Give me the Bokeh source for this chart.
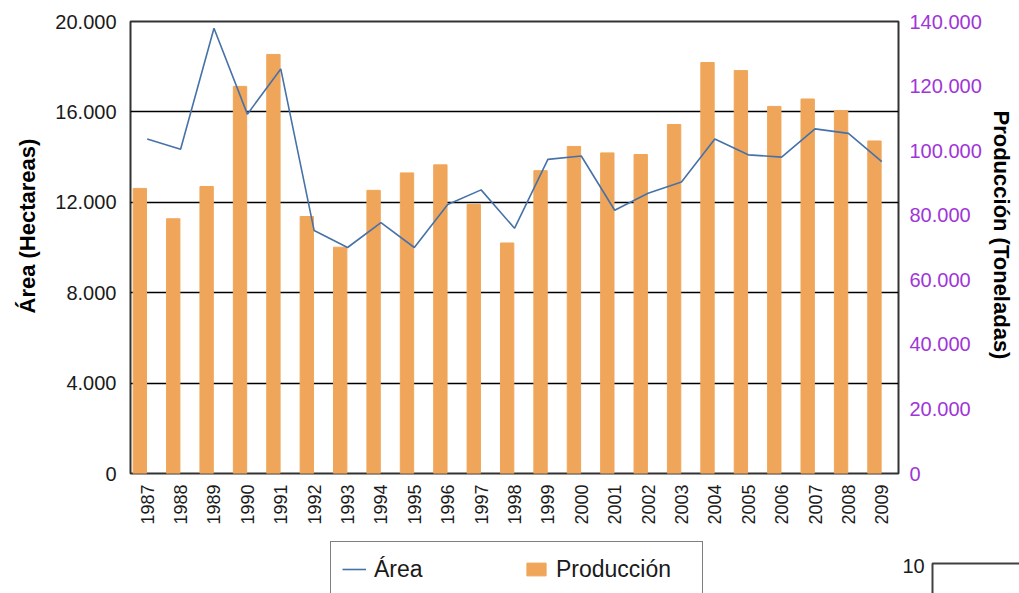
import math
from bokeh.plotting import figure
from bokeh.layouts import column
from bokeh.models import (FactorRange, Range1d, LinearAxis, FixedTicker, Legend,
                          LegendItem, ColumnDataSource, Title)
from bokeh.core.properties import value
from bokeh.transform import dodge
from bokeh.embed import file_html
from bokeh.resources import INLINE

years = [str(y) for y in range(1987, 2010)]
area = [14800, 14350, 19700, 15900, 17900, 10750, 10000, 11100, 10000, 11900,
        12550, 10850, 13900, 14050, 11650, 12400, 12900, 14800, 14100, 14000,
        15250, 15050, 13800]
produccion = [88300, 78900, 88900, 119900, 129800, 79600, 70100, 87700, 93100,
              95600, 83300, 71400, 93800, 101300, 99300, 98800, 108100, 127300,
              124800, 113700, 116000, 112400, 103000]

left_ticks = [0, 4000, 8000, 12000, 16000, 20000]
left_tick_labels = ["0", "4.000", "8.000", "12.000", "16.000", "20.000"]
right_ticks = [0, 20000, 40000, 60000, 80000, 100000, 120000, 140000]
right_tick_labels = ["0", "20.000", "40.000", "60.000", "80.000", "100.000",
                     "120.000", "140.000"]
next_chart_tick = ["10"]

FONT = "Liberation Sans"
BAR_COLOR = "#F0A65A"
LINE_COLOR = "#4672A8"
TEXT_COLOR = "#1a1a1a"
PURPLE = "#A035D8"

src = ColumnDataSource(dict(year=years, area=area, prod=produccion))

# ---------------- main chart ----------------
p = figure(x_range=FactorRange(*years), y_range=Range1d(0, 20000),
           width=1019, height=538, output_backend="svg", toolbar_location=None,
           min_border_left=130, min_border_right=117, min_border_top=21,
           min_border_bottom=65)
p.extra_y_ranges = {"prod": Range1d(0, 140000)}
p.background_fill_color = "white"
p.border_fill_color = "white"
p.outline_line_color = "#333333"
p.outline_line_width = 2

bars = p.vbar(x=dodge("year", -0.22, range=p.x_range), top="prod", width=0.4,
              source=src, y_range_name="prod", fill_color=BAR_COLOR,
              line_color=BAR_COLOR)
line = p.line(x="year", y="area", source=src, line_color=LINE_COLOR,
              line_width=1.6)

# left axis
ya = p.yaxis[0]
ya.ticker = FixedTicker(ticks=left_ticks)
ya.major_label_overrides = dict(zip(left_ticks, left_tick_labels))
ya.major_label_text_font = FONT
ya.major_label_text_font_size = "20px"
ya.major_label_text_color = TEXT_COLOR
ya.major_label_standoff = 14
ya.major_tick_out = 0
ya.major_tick_in = 0
ya.minor_tick_out = 0
ya.minor_tick_in = 0
ya.axis_line_color = None

# right axis
ra = LinearAxis(y_range_name="prod", ticker=FixedTicker(ticks=right_ticks))
ra.major_label_overrides = dict(zip(right_ticks, right_tick_labels))
ra.major_label_text_font = FONT
ra.major_label_text_font_size = "20px"
ra.major_label_text_color = PURPLE
ra.major_label_standoff = 11
ra.major_tick_out = 0
ra.major_tick_in = 0
ra.minor_tick_out = 0
ra.minor_tick_in = 0
ra.axis_line_color = None
p.add_layout(ra, "right")

# x axis
xa = p.xaxis[0]
xa.major_label_orientation = math.pi / 2
xa.major_label_text_font = FONT
xa.major_label_text_font_size = "18px"
xa.major_label_text_color = TEXT_COLOR
xa.major_label_standoff = 11
xa.major_tick_out = 0
xa.major_tick_in = 0
xa.axis_line_color = None

p.xgrid.grid_line_color = None
p.ygrid.ticker = FixedTicker(ticks=left_ticks)
p.ygrid.grid_line_color = "black"
p.ygrid.grid_line_width = 1.5

# axis titles
p.add_layout(Title(text="Área (Hectareas)", align="left", offset=160,
                   standoff=25, text_font=FONT, text_font_size="22px",
                   text_font_style="bold", text_color="black"), "left")
p.add_layout(Title(text="Producción (Toneladas)", align="left", offset=89,
                   standoff=8, text_font=FONT, text_font_size="22px",
                   text_font_style="bold", text_color="black"), "right")

# ---------------- legend strip (bottom) ----------------
p2 = figure(width=1019, height=55, x_range=Range1d(0, 1019),
            y_range=Range1d(55, 0), output_backend="svg",
            toolbar_location=None, min_border=0,
            x_axis_location=None, y_axis_location=None)
p2.frame_align = False
p2.grid.visible = False
p2.outline_line_color = None
p2.background_fill_color = "white"
p2.border_fill_color = "white"

# off-screen stand-ins that give the legend its glyph styles
leg_line = p2.line(x=[5000, 5100], y=[5000, 5000], line_color=LINE_COLOR,
                   line_width=1.6)
leg_bar = p2.vbar(x=[5000], top=[5100], bottom=5000, width=1,
                  fill_color=BAR_COLOR, line_color=BAR_COLOR)

legend = Legend(items=[LegendItem(label="Área", renderers=[leg_line]),
                       LegendItem(label="Producción", renderers=[leg_bar])],
                location=(330, -4), orientation="horizontal",
                glyph_width=24, glyph_height=16, label_standoff=8,
                label_width=135, label_height=32, spacing=15, padding=11,
                label_text_font=FONT, label_text_font_size="23px",
                label_text_color=TEXT_COLOR, border_line_color="black",
                border_line_width=1.5, background_fill_color="white",
                background_fill_alpha=1.0)
p2.add_layout(legend)

# fragment of the next chart at the bottom right
p2.text(x=[902], y=[27], text=next_chart_tick, text_font=value(FONT),
        text_font_size=value("20px"), text_align="left",
        text_baseline="middle", text_color=TEXT_COLOR)
p2.quad(left=[932], right=[1200], top=[25], bottom=[300], fill_color=None,
        line_color="#404040", line_width=2)

layout = column(p, p2, spacing=0)
open("out.html", "w").write(file_html(layout, INLINE))
